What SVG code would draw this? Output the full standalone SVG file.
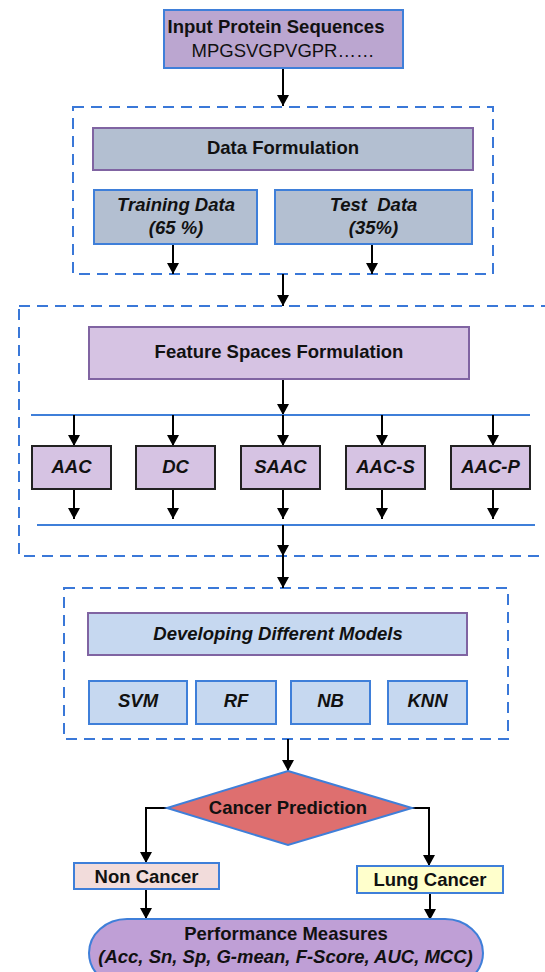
<svg xmlns="http://www.w3.org/2000/svg" width="545" height="972" viewBox="0 0 545 972">
<defs>
<marker id="ah" markerUnits="userSpaceOnUse" markerWidth="12" markerHeight="12" refX="11" refY="6" orient="auto">
<path d="M0,0 L11,6 L0,12 z" fill="#000"/>
</marker>
<style>
text{font-family:"Liberation Sans",Arial,sans-serif;font-size:18.5px;font-weight:bold;fill:#111;text-anchor:middle}
.it{font-style:italic}
.reg{font-weight:normal}
.dash{fill:none;stroke:#3a78d8;stroke-width:2;stroke-dasharray:11 7}
.bl{stroke:#3f7fd9;stroke-width:2}
.pu{stroke:#8064a2;stroke-width:2}
.bk{stroke:#222;stroke-width:2}
.con{fill:none;stroke:#000;stroke-width:2;marker-end:url(#ah)}
.hl{stroke:#3f7fd9;stroke-width:2}
</style>
</defs>
<rect width="545" height="972" fill="#fff"/>

<g id="groups">
<rect class="dash" x="73" y="107" width="420" height="167"/>
<rect class="dash" x="19" y="306" width="540" height="250"/>
<rect class="dash" x="64" y="588" width="444" height="151"/>
</g>

<g id="connectors">
<line class="con" x1="283" y1="68" x2="283" y2="106"/>
<line class="con" x1="173" y1="244" x2="173" y2="274"/>
<line class="con" x1="372" y1="244" x2="372" y2="274"/>
<line class="con" x1="283" y1="274" x2="283" y2="306"/>
<line class="con" x1="283" y1="380" x2="283" y2="415"/>
<line class="hl" x1="31" y1="415" x2="530" y2="415"/>
<line class="con" x1="74" y1="415" x2="74" y2="446"/>
<line class="con" x1="173" y1="415" x2="173" y2="446"/>
<line class="con" x1="283" y1="415" x2="283" y2="446"/>
<line class="con" x1="382" y1="415" x2="382" y2="446"/>
<line class="con" x1="493" y1="415" x2="493" y2="446"/>
<line class="con" x1="74" y1="489" x2="74" y2="519"/>
<line class="con" x1="173" y1="489" x2="173" y2="519"/>
<line class="con" x1="283" y1="489" x2="283" y2="519"/>
<line class="con" x1="382" y1="489" x2="382" y2="519"/>
<line class="con" x1="493" y1="489" x2="493" y2="519"/>
<line class="hl" x1="37" y1="525" x2="535" y2="525"/>
<line class="con" x1="283" y1="525" x2="283" y2="556"/>
<line class="con" x1="283" y1="556" x2="283" y2="588"/>
<line class="con" x1="288" y1="739" x2="288" y2="771"/>
<polyline class="con" points="167,808 146,808 146,863"/>
<polyline class="con" points="412,808 429,808 429,866"/>
<line class="con" x1="146" y1="889" x2="146" y2="919"/>
<line class="con" x1="430" y1="893" x2="430" y2="920"/>
</g>

<g id="input">
<rect class="bl" x="164" y="10" width="239" height="58" fill="#bba6d0"/>
<text x="276" y="33">Input Protein Sequences</text>
<text class="reg" x="283" y="57">MPGSVGPVGPR……</text>
</g>

<g id="data-formulation">
<rect class="pu" x="93" y="128" width="380" height="42" fill="#b3bfd1"/>
<text x="283" y="154">Data Formulation</text>
</g>
<g id="training">
<rect class="bl" x="94" y="190" width="163" height="54" fill="#b3bfd1"/>
<text class="it" x="176" y="211">Training Data</text>
<text class="it" x="176" y="234">(65 %)</text>
</g>
<g id="test">
<rect class="bl" x="275" y="190" width="197" height="54" fill="#b3bfd1"/>
<text class="it" x="373.5" y="211" xml:space="preserve">Test  Data</text>
<text class="it" x="373.5" y="234">(35%)</text>
</g>

<g id="feature">
<rect class="pu" x="89" y="327" width="380" height="52" fill="#d6c3e3"/>
<text x="279" y="358">Feature Spaces Formulation</text>
</g>
<g id="aac">
<rect class="bk" x="32" y="446" width="79" height="43" fill="#d6c3e3"/>
<text class="it" x="71.5" y="473">AAC</text>
</g>
<g id="dc">
<rect class="bk" x="136" y="446" width="79" height="43" fill="#d6c3e3"/>
<text class="it" x="175.5" y="473">DC</text>
</g>
<g id="saac">
<rect class="bk" x="241" y="446" width="79" height="43" fill="#d6c3e3"/>
<text class="it" x="280.5" y="473">SAAC</text>
</g>
<g id="aac-s">
<rect class="bk" x="346" y="446" width="79" height="43" fill="#d6c3e3"/>
<text class="it" x="385.5" y="473">AAC-S</text>
</g>
<g id="aac-p">
<rect class="bk" x="451" y="446" width="79" height="43" fill="#d6c3e3"/>
<text class="it" x="490.5" y="473">AAC-P</text>
</g>

<g id="developing">
<rect class="pu" x="88" y="613" width="379" height="42" fill="#c6d8f0"/>
<text class="it" x="278" y="640">Developing Different Models</text>
</g>
<g id="svm">
<rect class="bl" x="89" y="681" width="98" height="43" fill="#c6d8f0"/>
<text class="it" x="138" y="707">SVM</text>
</g>
<g id="rf">
<rect class="bl" x="196" y="681" width="80" height="43" fill="#c6d8f0"/>
<text class="it" x="236" y="707">RF</text>
</g>
<g id="nb">
<rect class="bl" x="291" y="681" width="79" height="43" fill="#c6d8f0"/>
<text class="it" x="330.5" y="707">NB</text>
</g>
<g id="knn">
<rect class="bl" x="388" y="681" width="79" height="43" fill="#c6d8f0"/>
<text class="it" x="427.5" y="707">KNN</text>
</g>

<g id="cancer-prediction">
<polygon class="bl" points="288,771 412,808 288,845 167,808" fill="#de6f6f"/>
<text x="288" y="814">Cancer Prediction</text>
</g>
<g id="non-cancer">
<rect class="bl" x="74" y="863" width="145" height="26" fill="#f2dcdb"/>
<text x="146.5" y="883">Non Cancer</text>
</g>
<g id="lung-cancer">
<rect class="bl" x="357" y="866" width="146" height="27" fill="#ffffcc"/>
<text x="430" y="886">Lung Cancer</text>
</g>
<g id="performance">
<rect class="bl" x="89" y="919" width="394" height="68" rx="38" ry="34" fill="#bf9fd6"/>
<text x="286" y="940">Performance Measures</text>
<text class="it" x="285.5" y="963">(Acc, Sn, Sp, G-mean, F-Score, AUC, MCC)</text>
</g>
</svg>
